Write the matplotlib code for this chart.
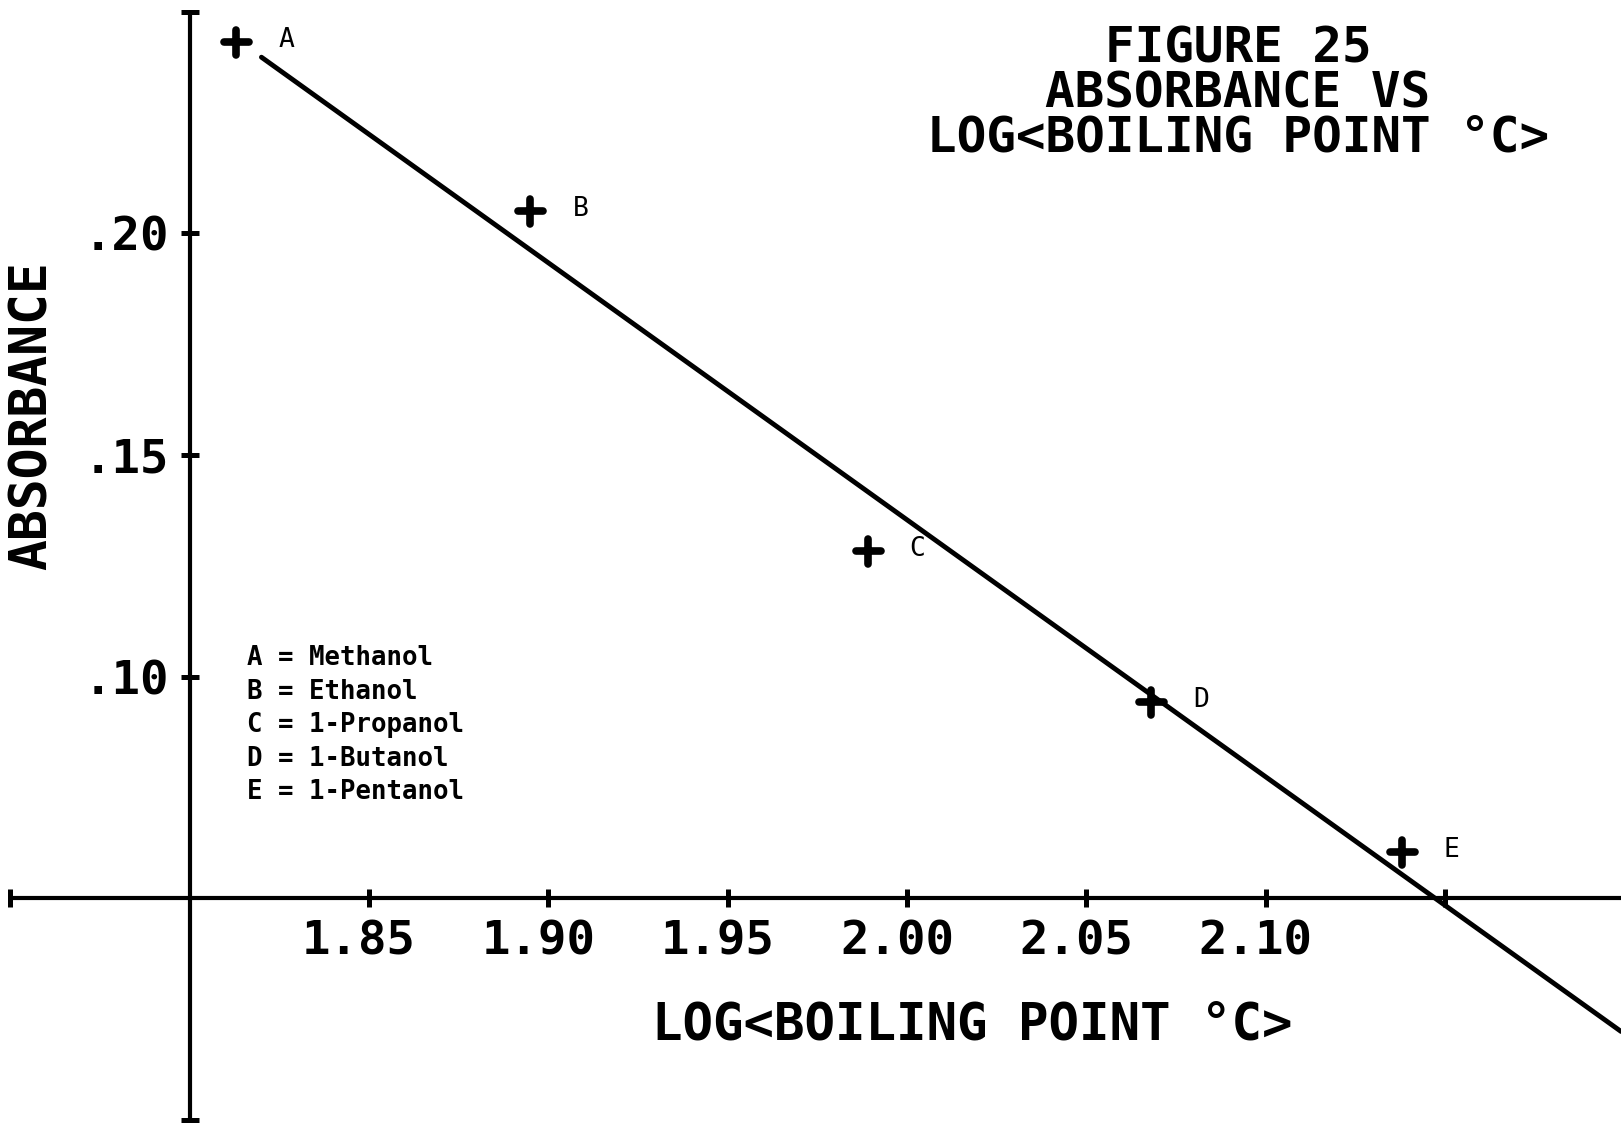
import matplotlib
matplotlib.use("Agg")
import matplotlib.pyplot as plt
from matplotlib.markers import MarkerStyle
from matplotlib.transforms import ScaledTranslation

# log10 of boiling point (deg C) and measured absorbance
labels = ["A", "B", "C", "D", "E"]
alcohols = ["Methanol", "Ethanol", "1-Propanol", "1-Butanol", "1-Pentanol"]
log_bp = [1.813, 1.895, 1.989, 2.068, 2.138]
absorbance = [0.2431, 0.2050, 0.1283, 0.0944, 0.0604]

# drawn fit line endpoints
fit_x = [1.820, 2.1991]
fit_y = [0.2397, 0.0200]

xticks = [1.75, 1.85, 1.90, 1.95, 2.00, 2.05, 2.10, 2.15]
xtick_labels = ["", "1.85", "1.90", "1.95", "2.00", "2.05", "2.10", ""]
yticks = [0.0, 0.10, 0.15, 0.20, 0.25]
ytick_labels = ["", ".10", ".15", ".20", ""]

title_lines = ["FIGURE 25", "ABSORBANCE VS", "LOG<BOILING POINT °C>"]

plot_font = "DejaVu Sans Mono"

fig = plt.figure(figsize=(16.21, 11.25), dpi=100)
ax = fig.add_axes([0, 0, 1, 1])
ax.set_xlim(1.7471, 2.1991)
ax.set_ylim(-0.0011, 0.2526)

for side in ["top", "right"]:
    ax.spines[side].set_visible(False)
ax.spines["left"].set_position(("data", 1.80))
ax.spines["bottom"].set_position(("data", 0.05))
ax.spines["left"].set_bounds(0.0, 0.25)
ax.spines["bottom"].set_bounds(1.75, 2.25)
for side in ["left", "bottom"]:
    ax.spines[side].set_linewidth(3)
    ax.spines[side].set_capstyle("round")

ax.set_xticks(xticks)
ax.set_xticklabels(xtick_labels)
ax.set_yticks(yticks)
ax.set_yticklabels(ytick_labels)
ax.tick_params(axis="both", direction="inout", length=13, width=3.6,
               labelsize=34)
ax.tick_params(axis="x", pad=9)
ax.tick_params(axis="y", pad=8)
for lab in ax.get_xticklabels() + ax.get_yticklabels():
    lab.set_fontfamily(plot_font)
    lab.set_fontweight("bold")
for lab in ax.get_xticklabels():
    lab.set_transform(lab.get_transform() +
                      ScaledTranslation(-0.10, 0, fig.dpi_scale_trans))

# regression line
ax.plot(fit_x, fit_y, color="black", lw=3.5, solid_capstyle="round",
        clip_on=False)

# data points
plus = MarkerStyle("+", capstyle="round")
ax.plot(log_bp, absorbance, linestyle="none", marker=plus, markersize=18,
        markeredgewidth=5.5, color="black")
for lab, x, y in zip(labels, log_bp, absorbance):
    ax.annotate(lab, (x, y), xytext=(50, 2), textcoords="offset pixels",
                ha="center", va="center", fontsize=19, family=plot_font)

# key of compounds
key_text = "\n".join(f"{l} = {a}" for l, a in zip(labels, alcohols))
fig.text(247 / 1621, 1 - 645 / 1125, key_text, ha="left", va="top",
         fontsize=18.5, family=plot_font, fontweight="bold",
         linespacing=1.38)

# title block, one centred three-line text
fig.text(1238 / 1621, 1 - 93 / 1125, "\n".join(title_lines),
         ha="center", va="center", multialignment="center",
         fontsize=35.5, family=plot_font, fontweight="bold",
         linespacing=0.92)

fig.text(972 / 1621, 1 - 1026 / 1125, "LOG<BOILING POINT °C>",
         ha="center", va="center", fontsize=36.5, family=plot_font,
         fontweight="bold")
fig.text(33 / 1621, 1 - 416 / 1125, "ABSORBANCE", rotation=90,
         ha="center", va="center", fontsize=37, family=plot_font,
         fontweight="bold")

fig.savefig("out.png", dpi=100, facecolor="white")
